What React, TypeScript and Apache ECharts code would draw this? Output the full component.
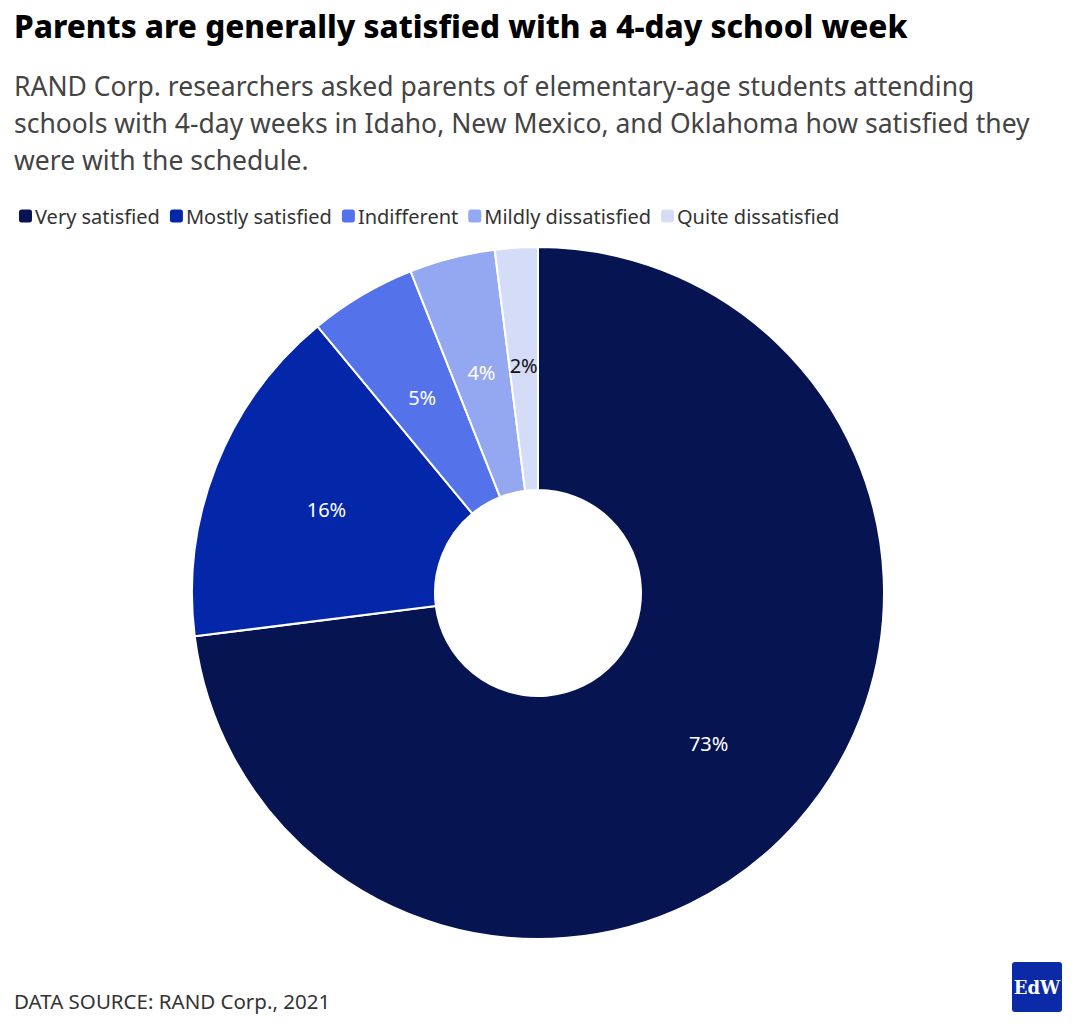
import React, { useEffect, useRef } from "react";
import * as echarts from "echarts";

const categories = ["Very satisfied", "Mostly satisfied", "Indifferent", "Mildly dissatisfied", "Quite dissatisfied"];
const values = [73, 16, 5, 4, 2];
const colors = ["#061551", "#0427aa", "#5473eb", "#93a8f0", "#d5dcf8"];
const labelColors = ["#fff", "#fff", "#fff", "#fff", "#111"];

const FONT = "'Source Sans Pro', 'Noto Sans', 'Open Sans', sans-serif";

export default function App() {
  const ref = useRef<HTMLDivElement>(null);
  useEffect(() => {
    document.body.style.margin = "0";
    const chart = echarts.init(ref.current!, null, { renderer: "svg" });
    chart.setOption({
      animation: false,
      backgroundColor: "#fff",
      textStyle: { fontFamily: FONT },
      legend: {
        left: 12,
        top: 201,
        itemWidth: 15,
        itemHeight: 15,
        itemGap: 8,
        icon: "roundRect",
        textStyle: { fontSize: 20, color: "#333", fontFamily: FONT, padding: [0, 0, 0, -3] },
        data: categories,
      },
      graphic: [
        { type: "text", left: 14, top: 9, style: { text: "Parents are generally satisfied with a 4-day school week", font: `800 31.5px ${FONT}`, fill: "#000" } },
        {
          type: "text", left: 14, top: 67,
          style: {
            text: "RAND Corp. researchers asked parents of elementary-age students attending\nschools with 4-day weeks in Idaho, New Mexico, and Oklahoma how satisfied they\nwere with the schedule.",
            font: `400 26.5px ${FONT}`, fill: "#444", lineHeight: 37,
          },
        },
        { type: "text", left: 14, top: 990, style: { text: "DATA SOURCE: RAND Corp., 2021", font: `400 20.5px ${FONT}`, fill: "#333" } },
        { type: "rect", shape: { x: 1012, y: 962, width: 50, height: 50, r: 3 }, style: { fill: "#0a2aa8" } },
        { type: "text", x: 1037, y: 987, style: { text: "EdW", font: "bold 18px 'DejaVu Serif', serif", fill: "#fff", align: "center", verticalAlign: "middle" } },
      ],
      series: [
        {
          type: "pie",
          center: [538, 593],
          radius: [103, 346],
          startAngle: 90,
          clockwise: true,
          itemStyle: { borderColor: "#fff", borderWidth: 2 },
          label: {
            position: "inside",
            fontSize: 20,
            fontFamily: FONT,
            formatter: (p: any) => p.value + "%",
          },
          labelLine: { show: false },
          data: categories.map((c, i) => ({
            name: c,
            value: values[i],
            itemStyle: { color: colors[i] },
            label: { color: labelColors[i] },
          })),
        },
      ],
    });
    return () => chart.dispose();
  }, []);
  return <div ref={ref} style={{ width: 1080, height: 1024 }} />;
}
